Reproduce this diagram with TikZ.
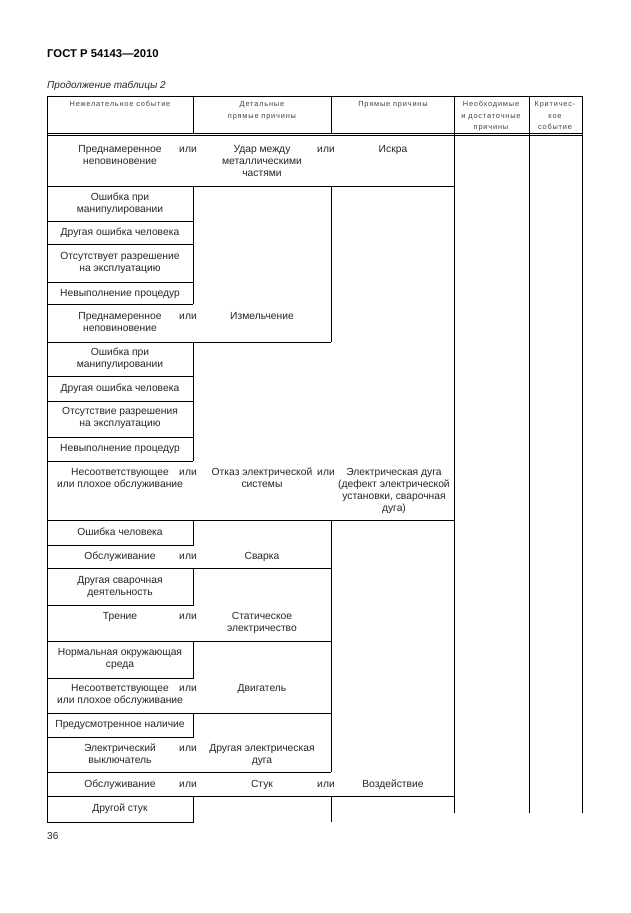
\documentclass[tikz,border=0pt]{standalone}
\usepackage{fontspec}
\setmainfont{Liberation Sans}
\newfontfamily\hdrfont[LetterSpace=11]{Liberation Sans}
\begin{document}
\begin{tikzpicture}[x=1pt, y=-1pt,
	cell/.style={font=\fontsize{10.3}{12}\selectfont, align=center, anchor=base, inner sep=0pt, text=black!85},
	hdr/.style={font=\hdrfont\fontsize{7.4}{11.5}\selectfont, align=center, anchor=base, inner sep=0pt, text=black!75},
	rule/.style={line width=0.8pt}]
	\useasboundingbox (0,0) rectangle (630,913);
	\node[anchor=base west, inner sep=0pt, font=\bfseries\fontsize{11.3}{13}\selectfont] (gost) at (47,57) {ГОСТ Р 54143—2010};
	\node[anchor=base west, inner sep=0pt, font=\itshape\fontsize{10}{12}\selectfont, text=black!85] (cont) at (47,88) {Продолжение таблицы 2};
	\node[anchor=base west, inner sep=0pt, font=\fontsize{10}{12}\selectfont, text=black!85] (page) at (47,839) {36};

	% header (base = last line)
	\draw[rule] (47,96) -- (582,96);
	\draw[rule] (47,133) -- (582,133);
	\draw[rule] (47,135.5) -- (582,135.5);
	\draw[rule] (193,96) -- (193,133) (331,96) -- (331,133);
	\draw[rule] (47,96) -- (47,822);
	\draw[rule] (454,96) -- (454,813) (529,96) -- (529,813) (582,96) -- (582,813);
	\node[hdr] (h1) at (120,106.5) {Нежелательное событие};
	\node[hdr] (h2) at (262,118) {Детальные\\прямые причины};
	\node[hdr] (h3) at (393,106.5) {Прямые причины};
	\node[hdr] (h4) at (491,129.5) {Необходимые\\и достаточные\\причины};
	\node[hdr] (h5) at (555,129.5) {Критичес-\\кое\\событие};

	% Искра
	\draw[rule] (47,186) -- (454,186);
	\node[cell] (pn1) at (120,164) {Преднамеренное\\неповиновение};
	\node[cell] (or1) at (188,152) {или};
	\node[cell] (udar) at (262,176) {Удар между\\металлическими\\частями};
	\node[cell] (or2) at (326,152) {или};
	\node[cell] (iskra) at (393,152) {Искра};

	% Удар между металлическими частями
	\draw[rule] (47,221) -- (193,221) (47,244) -- (193,244) (47,282) -- (193,282) (47,304) -- (193,304);
	\draw[rule] (193,186) -- (193,304);
	\draw[rule] (331,186) -- (331,342) (47,342) -- (331,342);
	\node[cell] (om1) at (120,212) {Ошибка при\\манипулировании};
	\node[cell] (do1) at (120,235.5) {Другая ошибка человека};
	\node[cell] (or1a) at (120,271) {Отсутствует разрешение\\на эксплуатацию};
	\node[cell] (np1) at (120,296) {Невыполнение процедур};
	\node[cell] (pn2) at (120,331) {Преднамеренное\\неповиновение};
	\node[cell] (or3) at (188,319) {или};
	\node[cell] (izm) at (262,319) {Измельчение};

	% Измельчение
	\draw[rule] (47,376) -- (193,376) (47,401) -- (193,401) (47,437) -- (193,437) (47,461) -- (193,461);
	\draw[rule] (193,342) -- (193,461);
	\node[cell] (om2) at (120,367) {Ошибка при\\манипулировании};
	\node[cell] (do2) at (120,391) {Другая ошибка человека};
	\node[cell] (or2a) at (120,426) {Отсутствие разрешения\\на эксплуатацию};
	\node[cell] (np2) at (120,451) {Невыполнение процедур};
	\node[cell] (nes1) at (120,487) {Несоответствующее\\или плохое обслуживание};
	\node[cell] (or4) at (188,475) {или};
	\node[cell] (otk) at (262,487) {Отказ электрической\\системы};
	\node[cell] (or5) at (326,475) {или};
	\node[cell] (duga) at (394,511) {Электрическая дуга\\(дефект электрической\\установки, сварочная\\дуга)};

	% Электрическая дуга
	\draw[rule] (47,520) -- (454,520);
	\draw[rule] (331,520) -- (331,772);
	\draw[rule] (193,520) -- (193,545) -- (47,545);
	\draw[rule] (47,568) -- (331,568);
	\draw[rule] (193,568) -- (193,605) -- (47,605);
	\draw[rule] (47,641) -- (331,641);
	\draw[rule] (193,641) -- (193,678) -- (47,678);
	\draw[rule] (47,713) -- (331,713);
	\draw[rule] (193,713) -- (193,737) -- (47,737);
	\draw[rule] (47,772) -- (331,772);
	\node[cell] (och) at (120,535.5) {Ошибка человека};
	\node[cell] (obs1) at (120,559.5) {Обслуживание};
	\node[cell] (or6) at (188,559.5) {или};
	\node[cell] (svar) at (262,559.5) {Сварка};
	\node[cell] (dsv) at (120,595) {Другая сварочная\\деятельность};
	\node[cell] (tren) at (120,619.5) {Трение};
	\node[cell] (or7) at (188,619.5) {или};
	\node[cell] (stat) at (262,631.5) {Статическое\\электричество};
	\node[cell] (nos) at (120,667) {Нормальная окружающая\\среда};
	\node[cell] (nes2) at (120,703) {Несоответствующее\\или плохое обслуживание};
	\node[cell] (or8) at (188,691) {или};
	\node[cell] (dvig) at (262,691) {Двигатель};
	\node[cell] (pnal) at (120,727.5) {Предусмотренное наличие};
	\node[cell] (evyk) at (120,763) {Электрический\\выключатель};
	\node[cell] (or9) at (188,751) {или};
	\node[cell] (ded) at (262,763) {Другая электрическая\\дуга};

	% Воздействие
	\draw[rule] (47,796) -- (454,796);
	\draw[rule] (193,796) -- (193,822) -- (47,822);
	\draw[rule] (331,796) -- (331,822);
	\node[cell] (obs2) at (120,787) {Обслуживание};
	\node[cell] (or10) at (188,787) {или};
	\node[cell] (stuk) at (262,787) {Стук};
	\node[cell] (or11) at (326,787) {или};
	\node[cell] (vozd) at (393,787) {Воздействие};
	\node[cell] (dstuk) at (120,811.5) {Другой стук};
\end{tikzpicture}
\end{document}
